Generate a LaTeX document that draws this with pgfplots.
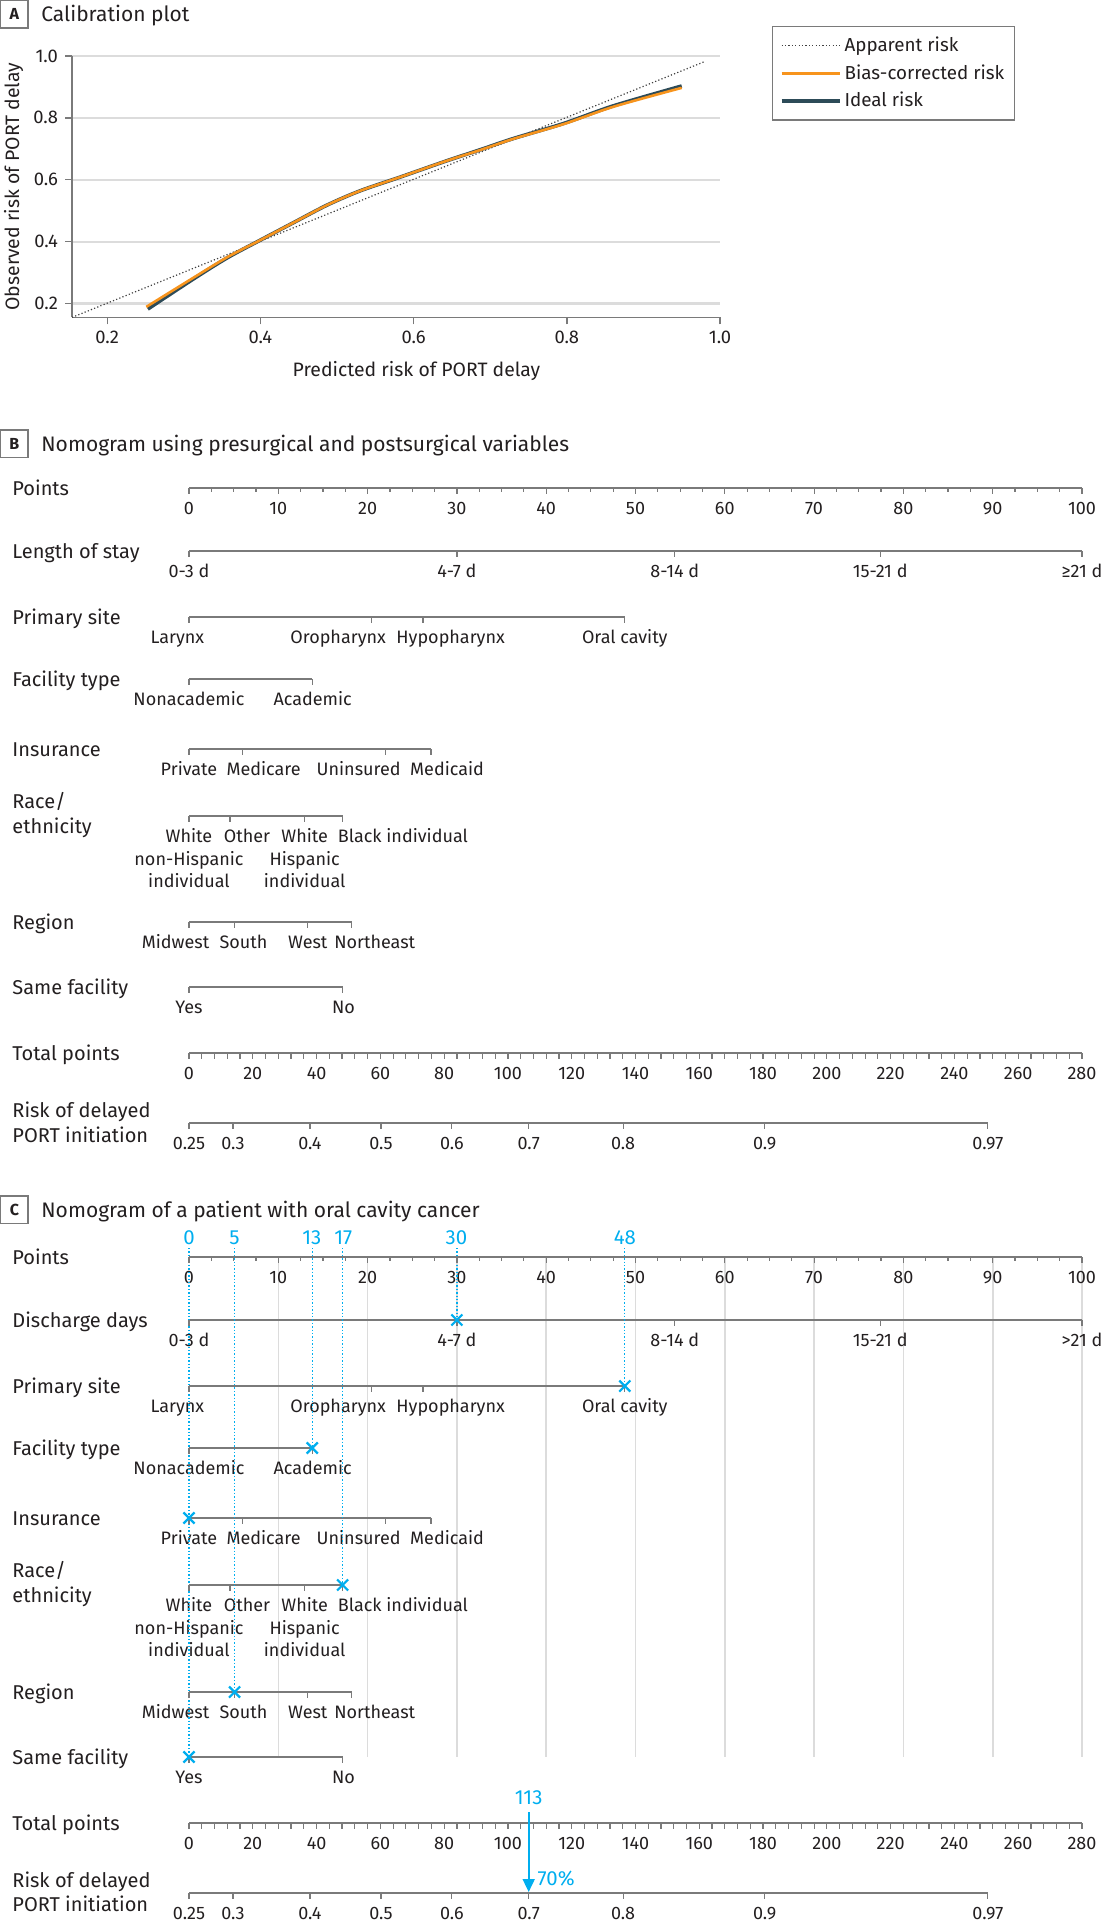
\documentclass[border=0pt]{standalone}
\usepackage{fontspec}
\setmainfont{Fira Sans}
\usepackage{pgfplots}
\usepackage{pgfplotstable}
\pgfplotsset{compat=1.18}
\usetikzlibrary{arrows.meta}

\definecolor{txt}{HTML}{231F20}
\definecolor{axg}{HTML}{7A7A7A}
\definecolor{gridg}{HTML}{DCDCDC}
\definecolor{jblue}{HTML}{00AEEF}
\definecolor{calorange}{HTML}{F7941D}
\definecolor{caldark}{HTML}{2D4B58}

\newcommand\labf{\fontsize{9}{10.8}\selectfont}
\newcommand\rowf{\fontsize{10}{12}\selectfont}
\newcommand\titf{\fontsize{10.5}{12.6}\selectfont}
\newcommand\bluef{\fontsize{10.2}{12}\selectfont}
\newcommand\calt{\fontsize{9.2}{11}\selectfont}
\newcommand\calf{\fontsize{9.7}{11.6}\selectfont}
\newcommand\legf{\fontsize{9.4}{11.2}\selectfont}
\newcommand\boxf{\fontsize{8}{9.6}\selectfont\bfseries}

% tick hanging down from a scale line
\pgfdeclareplotmark{tk}{\pgfpathmoveto{\pgfqpoint{0pt}{0pt}}\pgfpathlineto{\pgfqpoint{0pt}{-\pgfplotmarksize}}\pgfusepathqstroke}

\pgfplotsset{
  rowline/.style={no markers, axg, line width=0.6pt, forget plot},
  rowtick/.style={only marks, mark=tk, axg, mark options={line width=0.6pt}, forget plot},
}
\tikzset{
  cl/.style={anchor=base, yshift=-13.25pt, font=\labf, text=txt, inner sep=0pt},
  rl/.style={anchor=base west, yshift=-3.5pt, font=\rowf, text=txt, inner sep=0pt},
  rl0/.style={anchor=base west, font=\rowf, text=txt, inner sep=0pt},
  bl/.style={anchor=base, font=\bluef, text=jblue, inner sep=0pt},
  pbox/.style={draw=axg, line width=0.6pt, minimum width=13.6pt, minimum height=13.6pt, inner sep=0pt, font=\boxf, text=txt},
  tit/.style={anchor=base west, font=\titf, text=txt, inner sep=0pt},
}

% scale tick positions (points units); second column only a placeholder
\pgfplotstableread{
p    b
0    0
2.5  0
5    0
7.5  0
10   0
12.5 0
15   0
17.5 0
20   0
22.5 0
25   0
27.5 0
30   0
32.5 0
35   0
37.5 0
40   0
42.5 0
45   0
47.5 0
50   0
52.5 0
55   0
57.5 0
60   0
62.5 0
65   0
67.5 0
70   0
72.5 0
75   0
77.5 0
80   0
82.5 0
85   0
87.5 0
90   0
92.5 0
95   0
97.5 0
100  0
}\ptsminor
\pgfplotstableread{
p   b
0   0
10  0
20  0
30  0
40  0
50  0
60  0
70  0
80  0
90  0
100 0
}\ptsmajor
\pgfplotstableread{
t   b
0   0
4   0
8   0
12  0
16  0
20  0
24  0
28  0
32  0
36  0
40  0
44  0
48  0
52  0
56  0
60  0
64  0
68  0
72  0
76  0
80  0
84  0
88  0
92  0
96  0
100 0
104 0
108 0
112 0
116 0
120 0
124 0
128 0
132 0
136 0
140 0
144 0
148 0
152 0
156 0
160 0
164 0
168 0
172 0
176 0
180 0
184 0
188 0
192 0
196 0
200 0
204 0
208 0
212 0
216 0
220 0
224 0
228 0
232 0
236 0
240 0
244 0
248 0
252 0
256 0
260 0
264 0
268 0
272 0
276 0
280 0
}\totticks

\newcommand\rowname[2]{\node[rl] at (axis cs:-19.82,-#1) {#2};}

\newcommand\rowPoints[1]{%
  \addplot[rowline] coordinates {(0,-#1) (100,-#1)};
  \addplot[rowtick, mark size=2pt] table[x=p, y expr=-#1] {\ptsminor};
  \addplot[rowtick, mark size=3pt] table[x=p, y expr=-#1] {\ptsmajor};
  \pgfplotsinvokeforeach{0,10,20,30,40,50,60,70,80,90,100}{\node[cl] at (axis cs:##1,-#1) {##1};}
}
\newcommand\rowLos[2]{%
  \addplot[rowline] coordinates {(0,-#1) (100,-#1)};
  \addplot[rowtick, mark size=2.8pt] coordinates {(0,-#1) (30,-#1) (54.4,-#1) (77.4,-#1) (100,-#1)};
  \node[cl] at (axis cs:0,-#1) {0-3 d};
  \node[cl] at (axis cs:30,-#1) {4-7 d};
  \node[cl] at (axis cs:54.4,-#1) {8-14 d};
  \node[cl] at (axis cs:77.4,-#1) {15-21 d};
  \node[cl] at (axis cs:100,-#1) {#2};
}
\newcommand\rowSite[1]{%
  \addplot[rowline] coordinates {(0,-#1) (48.8,-#1)};
  \addplot[rowtick, mark size=2.8pt] coordinates {(0,-#1) (20.4,-#1) (26.2,-#1) (48.8,-#1)};
  \node[cl] at (axis cs:-1.3,-#1) {Larynx};
  \node[cl] at (axis cs:16.7,-#1) {Oropharynx};
  \node[cl] at (axis cs:29.3,-#1) {Hypopharynx};
  \node[cl] at (axis cs:48.8,-#1) {Oral cavity};
}
\newcommand\rowFac[1]{%
  \addplot[rowline] coordinates {(0,-#1) (13.8,-#1)};
  \addplot[rowtick, mark size=2.8pt] coordinates {(0,-#1) (13.8,-#1)};
  \node[cl] at (axis cs:0,-#1) {Nonacademic};
  \node[cl] at (axis cs:13.85,-#1) {Academic};
}
\newcommand\rowIns[1]{%
  \addplot[rowline] coordinates {(0,-#1) (27.1,-#1)};
  \addplot[rowtick, mark size=2.8pt] coordinates {(0,-#1) (5.95,-#1) (22.0,-#1) (27.1,-#1)};
  \node[cl] at (axis cs:0,-#1) {Private};
  \node[cl] at (axis cs:8.35,-#1) {Medicare};
  \node[cl] at (axis cs:19.0,-#1) {Uninsured};
  \node[cl] at (axis cs:28.9,-#1) {Medicaid};
}
\newcommand\rowRace[1]{%
  \addplot[rowline] coordinates {(0,-#1) (17.2,-#1)};
  \addplot[rowtick, mark size=2.8pt] coordinates {(0,-#1) (4.6,-#1) (12.9,-#1) (17.2,-#1)};
  \node[cl] at (axis cs:0,-#1) {White};
  \node[cl, yshift=-11.5pt] at (axis cs:0,-#1) {non-Hispanic};
  \node[cl, yshift=-22.5pt] at (axis cs:0,-#1) {individual};
  \node[cl] at (axis cs:6.5,-#1) {Other};
  \node[cl] at (axis cs:12.95,-#1) {White};
  \node[cl, yshift=-11.5pt] at (axis cs:12.95,-#1) {Hispanic};
  \node[cl, yshift=-22.5pt] at (axis cs:12.95,-#1) {individual};
  \node[cl, anchor=base west] at (axis cs:16.63,-#1) {Black individual};
}
\newcommand\rowReg[1]{%
  \addplot[rowline] coordinates {(0,-#1) (18.2,-#1)};
  \addplot[rowtick, mark size=2.8pt] coordinates {(0,-#1) (5.1,-#1) (13.3,-#1) (18.2,-#1)};
  \node[cl] at (axis cs:-1.5,-#1) {Midwest};
  \node[cl] at (axis cs:6.1,-#1) {South};
  \node[cl] at (axis cs:13.3,-#1) {West};
  \node[cl] at (axis cs:20.8,-#1) {Northeast};
}
\newcommand\rowSame[1]{%
  \addplot[rowline] coordinates {(0,-#1) (17.2,-#1)};
  \addplot[rowtick, mark size=2.8pt] coordinates {(0,-#1) (17.2,-#1)};
  \node[cl] at (axis cs:0,-#1) {Yes};
  \node[cl] at (axis cs:17.3,-#1) {No};
}
\newcommand\rowTot[1]{%
  \addplot[rowline] coordinates {(0,-#1) (100,-#1)};
  \addplot[rowtick, mark size=2.8pt] table[x expr=\thisrow{t}/2.8, y expr=-#1] {\totticks};
  \node[cl] at (axis cs:0,-#1) {0};
  \node[cl] at (axis cs:7.143,-#1) {20};
  \node[cl] at (axis cs:14.286,-#1) {40};
  \node[cl] at (axis cs:21.429,-#1) {60};
  \node[cl] at (axis cs:28.571,-#1) {80};
  \node[cl] at (axis cs:35.714,-#1) {100};
  \node[cl] at (axis cs:42.857,-#1) {120};
  \node[cl] at (axis cs:50,-#1) {140};
  \node[cl] at (axis cs:57.143,-#1) {160};
  \node[cl] at (axis cs:64.286,-#1) {180};
  \node[cl] at (axis cs:71.429,-#1) {200};
  \node[cl] at (axis cs:78.571,-#1) {220};
  \node[cl] at (axis cs:85.714,-#1) {240};
  \node[cl] at (axis cs:92.857,-#1) {260};
  \node[cl] at (axis cs:100,-#1) {280};
}
\newcommand\rowRisk[1]{%
  \addplot[rowline] coordinates {(0,-#1) (89.46,-#1)};
  \addplot[rowtick, mark size=2.8pt] coordinates {(0,-#1) (4.93,-#1) (13.54,-#1) (21.5,-#1) (29.43,-#1) (38.04,-#1) (48.61,-#1) (64.46,-#1) (89.46,-#1)};
  \node[cl] at (axis cs:0,-#1) {0.25};
  \node[cl] at (axis cs:4.93,-#1) {0.3};
  \node[cl] at (axis cs:13.54,-#1) {0.4};
  \node[cl] at (axis cs:21.5,-#1) {0.5};
  \node[cl] at (axis cs:29.43,-#1) {0.6};
  \node[cl] at (axis cs:38.04,-#1) {0.7};
  \node[cl] at (axis cs:48.61,-#1) {0.8};
  \node[cl] at (axis cs:64.46,-#1) {0.9};
  \node[cl] at (axis cs:89.46,-#1) {0.97};
}

\begin{document}
\begin{tikzpicture}
\useasboundingbox (0pt,0pt) rectangle (552pt,-960pt);

% panel headings
\node[pbox] at (7.2pt,-7.2pt) {A};
\node[tit] at (20.5pt,-11pt) {Calibration plot};
\node[pbox] at (7.2pt,-221.8pt) {B};
\node[tit] at (20.5pt,-225.5pt) {Nomogram using presurgical and postsurgical variables};
\node[pbox] at (7.2pt,-604.8pt) {C};
\node[tit] at (20.5pt,-608.5pt) {Nomogram of a patient with oral cavity cancer};

% ---------- A: calibration plot ----------
\begin{axis}[
  at={(36pt,-158.7pt)}, anchor=south west,
  scale only axis, width=324pt, height=130.7pt,
  xmin=0.154, xmax=1.0, ymin=0.155, ymax=1.0,
  axis x line*=bottom, axis y line*=left,
  axis line style={axg, line width=0.7pt},
  xtick={0.2,0.4,0.6,0.8,1.0}, ytick={0.2,0.4,0.6,0.8,1.0},
  tick align=outside, major tick length=3.5pt,
  tick style={axg, line width=0.7pt},
  ymajorgrids, major grid style={gridg, line width=1.1pt},
  ticklabel style={font=\calt, text=txt},
  /pgf/number format/fixed, /pgf/number format/fixed zerofill,
  /pgf/number format/precision=1, /pgf/number format/assume math mode=true,
  xlabel={Predicted risk of PORT delay},
  ylabel={Observed risk of PORT delay},
  label style={font=\calf, text=txt},
  xlabel style={at={(axis description cs:0.5316,0)}, anchor=base, yshift=-29.5pt},
  ylabel style={at={(axis description cs:-0.0817,0.5)}, anchor=base},
  legend cell align=left,
  legend image code/.code={\draw[#1] (0pt,0pt) -- (29pt,0pt);},
  legend style={at={(1.0802,1.1148)}, anchor=north west, draw=axg,
    line width=0.6pt, fill=white, font=\legf, text=txt,
    inner xsep=3.5pt, inner ysep=3.6pt, row sep=2pt, nodes={inner sep=1.5pt}},
]
\addplot[caldark, line width=1.8pt, smooth, forget plot] coordinates {
  (0.253,0.182) (0.313,0.280) (0.357,0.348) (0.400,0.405) (0.443,0.461)
  (0.487,0.518) (0.530,0.564) (0.583,0.609) (0.643,0.661) (0.687,0.697)
  (0.730,0.733) (0.796,0.782) (0.861,0.839) (0.950,0.903)
};
\addplot[black!75, line width=0.6pt, dash pattern=on 0.6pt off 1.1pt] coordinates {
  (0.154,0.155) (0.98,0.982)
};
\addlegendentry{Apparent risk}
\addplot[calorange, line width=1.3pt, smooth] coordinates {
  (0.251,0.189) (0.313,0.284) (0.357,0.350) (0.400,0.405) (0.443,0.461)
  (0.487,0.518) (0.530,0.564) (0.583,0.609) (0.643,0.661) (0.687,0.696)
  (0.730,0.732) (0.796,0.780) (0.861,0.836) (0.950,0.897)
};
\addlegendentry{Bias-corrected risk}
\addlegendimage{caldark, line width=2pt}
\addlegendentry{Ideal risk}
\end{axis}

% ---------- B and C: nomograms ----------
\begin{axis}[
  at={(0pt,-960pt)}, anchor=south west,
  x=4.465pt, y=0.5pt,
  xmin=-21.165, xmax=102.46, ymin=-1920, ymax=-420,
  hide axis, clip=false,
]
% light guides of panel C
\addplot[gridg, line width=0.8pt, forget plot, unbounded coords=jump] coordinates {
  (10,-1258) (10,-1757) (10,nan) (20,-1258) (20,-1757) (20,nan)
  (30,-1258) (30,-1757) (30,nan) (40,-1258) (40,-1757) (40,nan)
  (50,-1258) (50,-1757) (50,nan) (60,-1258) (60,-1757) (60,nan)
  (70,-1258) (70,-1757) (70,nan) (80,-1258) (80,-1757) (80,nan)
  (90,-1258) (90,-1757) (90,nan) (100,-1258) (100,-1757)
};

% B
\rowname{488}{Points}\rowPoints{488}
\rowname{551}{Length of stay}\rowLos{551}{≥21 d}
\rowname{617}{Primary site}\rowSite{617}
\rowname{679}{Facility type}\rowFac{679}
\rowname{749}{Insurance}\rowIns{749}
\node[rl0, yshift=4pt] at (axis cs:-19.82,-816) {Race/};
\node[rl0, yshift=-8.75pt] at (axis cs:-19.82,-816) {ethnicity};
\rowRace{816}
\rowname{922}{Region}\rowReg{922}
\rowname{987}{Same facility}\rowSame{987}
\rowname{1053}{Total points}\rowTot{1053}
\node[rl0, yshift=2.75pt] at (axis cs:-19.82,-1123) {Risk of delayed};
\node[rl0, yshift=-9.75pt] at (axis cs:-19.82,-1123) {PORT initiation};
\rowRisk{1123}

% C
\rowname{1257}{Points}\rowPoints{1257}
\rowname{1320}{Discharge days}\rowLos{1320}{>21 d}
\rowname{1386}{Primary site}\rowSite{1386}
\rowname{1448}{Facility type}\rowFac{1448}
\rowname{1518}{Insurance}\rowIns{1518}
\node[rl0, yshift=4pt] at (axis cs:-19.82,-1585) {Race/};
\node[rl0, yshift=-8.75pt] at (axis cs:-19.82,-1585) {ethnicity};
\rowRace{1585}
\rowname{1692}{Region}\rowReg{1692}
\rowname{1757}{Same facility}\rowSame{1757}
\rowname{1823}{Total points}\rowTot{1823}
\node[rl0, yshift=3pt] at (axis cs:-19.82,-1893) {Risk of delayed};
\node[rl0, yshift=-9pt] at (axis cs:-19.82,-1893) {PORT initiation};
\rowRisk{1893}

% patient: points read off each row
\addplot[jblue, line width=0.7pt, dash pattern=on 0.7pt off 1pt, forget plot, unbounded coords=jump] coordinates {
  (0,-1248) (0,-1757) (0,nan)
  (5.1,-1248) (5.1,-1692) (5.1,nan)
  (13.8,-1248) (13.8,-1448) (13.8,nan)
  (17.2,-1248) (17.2,-1585) (17.2,nan)
  (30,-1248) (30,-1320) (30,nan)
  (48.8,-1248) (48.8,-1386)
};
\addplot[only marks, mark=x, mark size=3.9pt, jblue, mark options={line width=1.1pt}, forget plot] coordinates {
  (30,-1320) (48.8,-1386) (13.8,-1448) (0,-1518) (17.2,-1585) (5.1,-1692) (0,-1757)
};
\addplot[jblue, line width=0.9pt, -{Triangle[length=6.5pt,width=6pt]}, forget plot] coordinates {
  (38.04,-1812) (38.04,-1892)
};
\node[bl] at (axis cs:0,-1244) {0};
\node[bl] at (axis cs:5.1,-1244) {5};
\node[bl] at (axis cs:13.75,-1244) {13};
\node[bl] at (axis cs:17.27,-1244) {17};
\node[bl] at (axis cs:29.95,-1244) {30};
\node[bl] at (axis cs:48.8,-1244) {48};
\node[bl] at (axis cs:38.04,-1804) {113};
\node[bl, anchor=base west] at (axis cs:39.0,-1885) {70\%};
\end{axis}
\end{tikzpicture}
\end{document}
